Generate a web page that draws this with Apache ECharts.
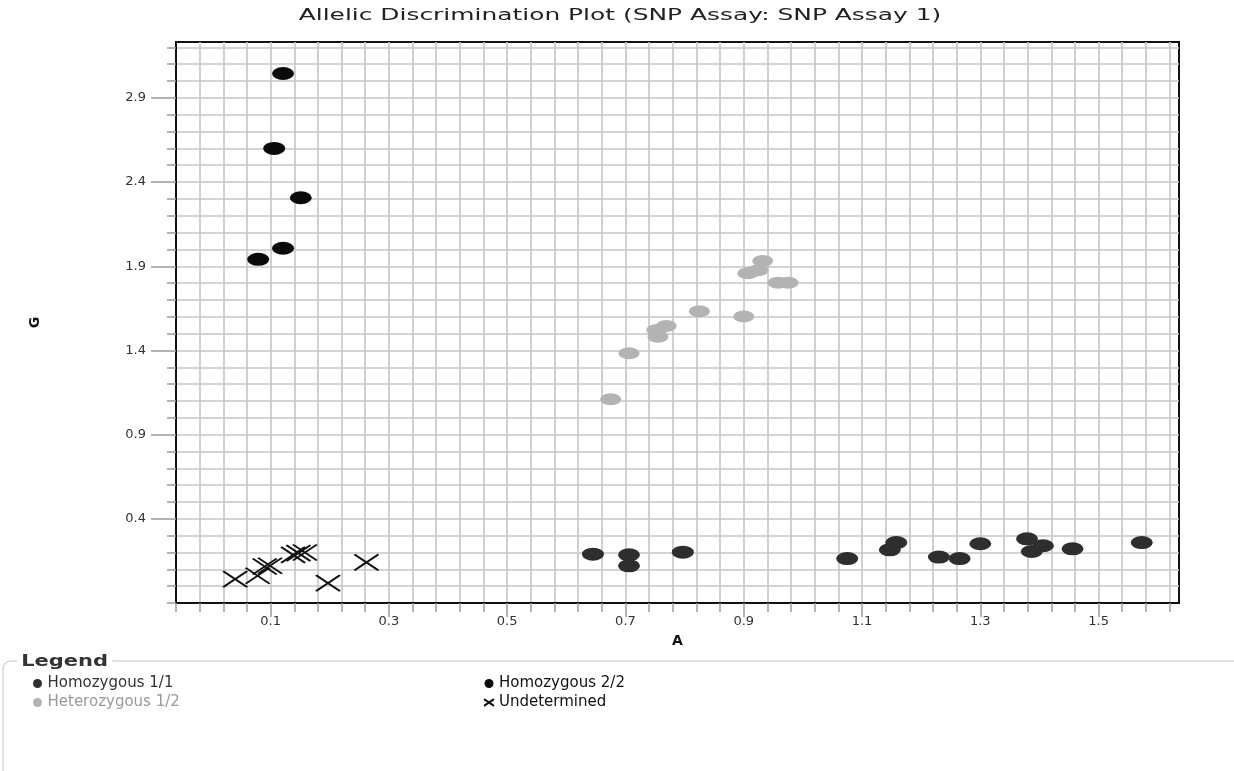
<!DOCTYPE html>
<html>
<head>
<meta charset="utf-8">
<title>Allelic Discrimination Plot</title>
<script src="https://cdn.jsdelivr.net/npm/echarts@6/dist/echarts.min.js"></script>
<style>
html, body { margin: 0; padding: 0; background: #fff; }
#chart { width: 1234px; height: 771px; }
</style>
</head>
<body>
<div id="chart"></div>
<script>
// points, [A, G]
var homo11 = [
  [0.645, 0.190], [0.706, 0.186], [0.706, 0.121], [0.797, 0.202],
  [1.075, 0.164], [1.147, 0.216], [1.158, 0.259], [1.230, 0.173],
  [1.265, 0.164], [1.300, 0.252], [1.379, 0.281], [1.387, 0.206],
  [1.406, 0.240], [1.456, 0.222], [1.573, 0.259]
];
var homo22 = [
  [0.121, 3.045], [0.106, 2.600], [0.151, 2.307], [0.121, 2.007], [0.079, 1.941]
];
var hetero12 = [
  [0.675, 1.110], [0.706, 1.383], [0.753, 1.522], [0.769, 1.545],
  [0.755, 1.482], [0.825, 1.633], [0.900, 1.601], [0.907, 1.858],
  [0.924, 1.877], [0.932, 1.931], [0.958, 1.802], [0.975, 1.802]
];
var undetermined = [
  [0.040, 0.042], [0.078, 0.062], [0.090, 0.117], [0.099, 0.121],
  [0.138, 0.186], [0.147, 0.196], [0.158, 0.200], [0.197, 0.018],
  [0.262, 0.141]
];
var xTickLabels = [0.1, 0.3, 0.5, 0.7, 0.9, 1.1, 1.3, 1.5];
var yTickLabels = [0.4, 0.9, 1.4, 1.9, 2.4, 2.9];

// grid lines: every 0.04 on A (lined up with the labels), every 0.1 on G
var xGrid = [];
for (var i = 0; i <= 42; i++) xGrid.push(Math.round((-0.06 + i * 0.04) * 100) / 100);
var yGrid = [];
for (var j = 0; j <= 33; j++) yGrid.push(Math.round((-0.1 + j * 0.1) * 10) / 10);

var FONT = '"DejaVu Sans", "Liberation Sans", sans-serif';
var X_PATH = 'path://M0,0L24,16M24,0L0,16';

var chart = echarts.init(document.getElementById('chart'));

// axis that carries the grid lines and the short ticks
function minorAxis(min, max, grid) {
  return {
    type: 'value',
    min: min,
    max: max,
    axisLine: { show: true, onZero: false, lineStyle: { color: '#111', width: 2 } },
    axisTick: { show: true, customValues: grid, length: 9, lineStyle: { color: '#9a9a9a', width: 1.5 } },
    axisLabel: { show: false },
    splitLine: { show: true, lineStyle: { color: '#c6c6c6', width: 1.6 } }
  };
}

// axis that carries the labels and the long ticks
function majorAxis(min, max, labels, margin, len) {
  return {
    type: 'value',
    min: min,
    max: max,
    axisLine: { show: false, onZero: false },
    axisTick: { show: true, customValues: labels, length: len, lineStyle: { color: '#9a9a9a', width: 1.5 } },
    axisLabel: {
      customValues: labels,
      margin: margin,
      color: '#333',
      fontSize: 13,
      fontFamily: FONT,
      formatter: function (v) { return v.toFixed(1); }
    },
    splitLine: { show: false }
  };
}

var xMain = minorAxis(-0.06, 1.636, xGrid);
xMain.position = 'bottom';
xMain.name = 'A';
xMain.nameLocation = 'middle';
xMain.nameGap = 31;
xMain.nameTextStyle = { fontWeight: 'bold', fontSize: 14, color: '#111', fontFamily: FONT };
var xLab = majorAxis(-0.06, 1.636, xTickLabels, 12, 14);
xLab.position = 'bottom';

var yMain = minorAxis(-0.1, 3.232, yGrid);
yMain.position = 'left';
yMain.name = 'G';
yMain.nameLocation = 'middle';
yMain.nameGap = 134;
yMain.nameTextStyle = { fontWeight: 'bold', fontSize: 14, color: '#111', fontFamily: FONT };
var yLab = majorAxis(-0.1, 3.232, yTickLabels, 30, 25);
yLab.position = 'left';

chart.setOption({
  animation: false,
  backgroundColor: '#fff',
  grid: {
    left: 176, top: 42, right: 55, bottom: 168,
    show: true, borderColor: '#111', borderWidth: 2, backgroundColor: '#fff'
  },
  xAxis: [xMain, xLab],
  yAxis: [yMain, yLab],
  legend: [
    {
      orient: 'vertical', left: 33, top: 676, padding: 0, itemGap: 4,
      itemWidth: 10, itemHeight: 9, selectedMode: false,
      textStyle: { fontSize: 15, fontFamily: FONT, lineHeight: 15 },
      data: [
        { name: 'Homozygous 1/1', icon: 'circle', textStyle: { color: '#333' } },
        { name: 'Heterozygous 1/2', icon: 'circle', textStyle: { color: '#999' } }
      ]
    },
    {
      orient: 'vertical', left: 483, top: 676, padding: 0, itemGap: 4,
      itemWidth: 10, itemHeight: 9, selectedMode: false,
      textStyle: { fontSize: 15, fontFamily: FONT, lineHeight: 15 },
      data: [
        { name: 'Homozygous 2/2', icon: 'circle', textStyle: { color: '#111' } },
        { name: 'Undetermined', textStyle: { color: '#111' } }
      ]
    }
  ],
  graphic: [
    // title, stretched sideways like the original export
    {
      type: 'text', x: 620, y: 16, scaleX: 1.66,
      style: {
        text: 'Allelic Discrimination Plot (SNP Assay: SNP Assay 1)',
        font: '15px ' + FONT, fill: '#222', align: 'center', verticalAlign: 'middle'
      }
    },
    // legend frame
    {
      type: 'rect', x: 3, y: 661, silent: true, z: 0,
      shape: { width: 1260, height: 140, r: [8, 0, 0, 0] },
      style: { fill: 'none', stroke: '#d8d8d8', lineWidth: 1.5 }
    },
    {
      type: 'text', x: 17, y: 662, z: 10, scaleX: 1.4,
      style: {
        text: 'Legend', font: 'bold 15px ' + FONT, fill: '#333',
        backgroundColor: '#fff', padding: [0, 3], verticalAlign: 'middle'
      }
    }
  ],
  series: [
    {
      name: 'Homozygous 1/1', type: 'scatter', data: homo11,
      symbol: 'circle', symbolSize: [22, 13],
      itemStyle: { color: '#2e2e2e', opacity: 1 },
      emphasis: { disabled: true }
    },
    {
      name: 'Homozygous 2/2', type: 'scatter', data: homo22,
      symbol: 'circle', symbolSize: [22, 13],
      itemStyle: { color: '#0a0a0a', opacity: 1 },
      emphasis: { disabled: true }
    },
    {
      name: 'Heterozygous 1/2', type: 'scatter', data: hetero12,
      symbol: 'circle', symbolSize: [21, 12],
      itemStyle: { color: '#b3b3b3', opacity: 1 },
      emphasis: { disabled: true }
    },
    {
      name: 'Undetermined', type: 'scatter', data: undetermined,
      symbol: X_PATH, symbolSize: [24, 16],
      itemStyle: { color: '#111', borderColor: '#111', borderWidth: 2, opacity: 1 },
      emphasis: { disabled: true }
    }
  ]
});
</script>
</body>
</html>
